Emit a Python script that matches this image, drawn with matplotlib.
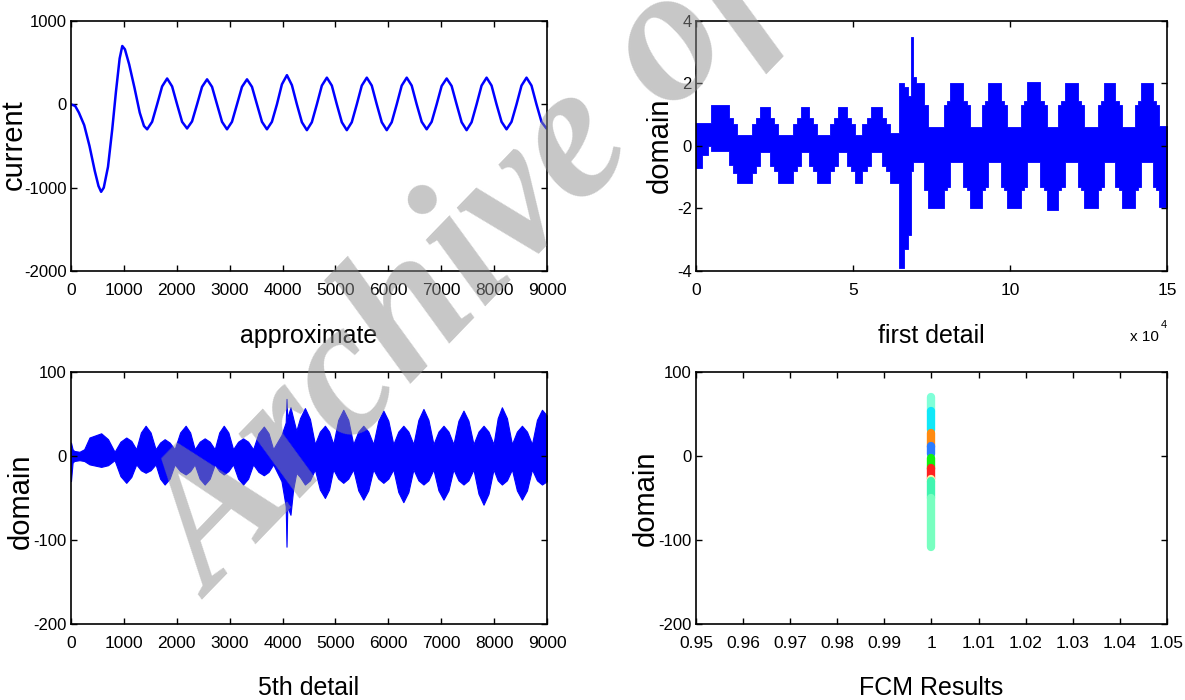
import matplotlib
matplotlib.use("Agg")
import matplotlib.pyplot as plt

plt.rcParams['axes.unicode_minus'] = False
plt.rcParams['font.family'] = ['Liberation Sans', 'DejaVu Sans']

# --- approximate (current) ---
appr_x = [0, 80, 150, 250, 350, 450, 520, 570, 620, 700, 780, 850, 920, 970, 1020, 1100, 1200, 1300, 1380, 1440,
          1534, 1629, 1723, 1818, 1912, 2006, 2101, 2195,
          2289, 2384, 2478, 2573, 2667, 2761, 2856, 2950,
          3044, 3139, 3233, 3328, 3422, 3516, 3611, 3705,
          3799, 3894, 3988, 4083, 4177, 4271, 4366, 4460,
          4554, 4649, 4743, 4838, 4932, 5026, 5121, 5215,
          5309, 5404, 5498, 5593, 5687, 5781, 5876, 5970,
          6064, 6159, 6253, 6348, 6442, 6536, 6631, 6725,
          6819, 6914, 7008, 7103, 7197, 7291, 7386, 7480,
          7574, 7669, 7763, 7858, 7952, 8046, 8141, 8235,
          8329, 8424, 8518, 8613, 8707, 8801, 8896, 8990, 9000]
appr_y = [0, -20, -100, -250, -500, -800, -980, -1050, -1000, -750, -300, 150, 550, 700, 660, 480, 200, -100, -260, -300,
          -210, 0, 215, 310, 215, 0, -210, -290,
          -205, 0, 210, 300, 210, 0, -210, -300,
          -210, 0, 210, 300, 210, 0, -210, -300,
          -210, 0, 240, 350, 230, 0, -215, -310,
          -215, 0, 225, 320, 225, 0, -215, -310,
          -215, 0, 225, 320, 225, 0, -215, -310,
          -215, 0, 225, 320, 225, 0, -210, -300,
          -210, 0, 220, 310, 220, 0, -215, -310,
          -215, 0, 225, 320, 225, 0, -210, -300,
          -210, 0, 225, 320, 225, 0, -210, -290, -280]

# --- first detail: envelope steps (x in units of 1e4) ---
fd_x = [0.00, 0.18, 0.38, 0.49, 1.05, 1.17, 1.30, 1.78, 1.91, 2.04, 2.35, 2.48, 2.62, 3.08, 3.22, 3.34,
        3.60, 3.73, 3.86, 4.28, 4.41, 4.53, 4.80, 4.93, 5.05, 5.30, 5.44, 5.56, 5.92, 6.06, 6.18,
        6.46, 6.62, 6.74, 6.86, 6.92, 7.00, 7.26, 7.40, 7.90, 8.00, 8.10, 8.50, 8.62, 8.72, 9.10,
        9.19, 9.30, 9.72, 9.82, 9.92, 10.34, 10.44, 10.54, 10.97, 11.07, 11.17, 11.54, 11.64, 11.74,
        12.16, 12.26, 12.36, 12.79, 12.89, 12.99, 13.36, 13.46, 13.56, 13.98, 14.08, 14.18, 14.55,
        14.65, 14.75, 15.00]
fd_up = [0.75, 0.75, 0.75, 1.30, 0.90, 0.70, 0.35, 0.70, 0.90, 1.25, 0.90, 0.70, 0.35, 0.70, 0.90, 1.25,
         0.90, 0.70, 0.35, 0.70, 0.90, 1.25, 0.90, 0.70, 0.35, 0.70, 0.90, 1.25, 0.90, 0.70, 0.40,
         2.00, 1.90, 1.60, 3.50, 2.20, 2.00, 1.30, 0.60, 1.30, 1.45, 2.00, 1.45, 1.30, 0.60, 1.30,
         1.45, 2.00, 1.45, 1.30, 0.60, 1.30, 1.45, 2.05, 1.45, 1.30, 0.60, 1.30, 1.45, 2.00,
         1.45, 1.30, 0.60, 1.30, 1.45, 2.00, 1.45, 1.30, 0.60, 1.30, 1.45, 2.00, 1.45,
         1.30, 0.65, 0.65]
fd_lo = [-0.70, -0.30, 0.00, -0.15, -0.60, -0.85, -1.20, -0.85, -0.65, -0.20, -0.65, -0.80, -1.20, -0.80, -0.65, -0.20,
         -0.65, -0.80, -1.20, -0.80, -0.65, -0.20, -0.65, -0.80, -1.20, -0.80, -0.65, -0.20, -0.65, -0.80, -1.20,
         -3.90, -3.30, -2.85, -0.80, -0.50, -0.50, -1.40, -2.00, -1.40, -1.30, -0.50, -1.30, -1.40, -2.00, -1.40,
         -1.30, -0.50, -1.30, -1.40, -2.00, -1.40, -1.30, -0.50, -1.30, -1.40, -2.05, -1.40, -1.30, -0.50,
         -1.30, -1.40, -2.00, -1.40, -1.30, -0.50, -1.30, -1.40, -2.00, -1.40, -1.30, -0.50, -1.30,
         -1.40, -1.95, -1.95]

# --- 5th detail: envelope ---
d5_x = [0, 30, 60, 161, 250, 350, 571, 700, 824,
        935, 1045, 1140, 1234, 1322, 1411, 1505, 1600, 1685, 1771, 1865, 1960, 2064, 2168, 2253, 2339,
        2433, 2528, 2623, 2718, 2803, 2888, 2976, 3065, 3160, 3254, 3349, 3444, 3545, 3646, 3735, 3823,
        3980, 4060, 4075, 4090, 4150, 4200, 4260, 4330, 4423,
        4518, 4612, 4706, 4801, 4880, 4959, 5053, 5148, 5242, 5337, 5432, 5527, 5621, 5716, 5811, 5906,
        6000, 6094, 6189, 6284, 6379, 6474, 6569, 6664, 6758, 6853, 6948, 7043, 7137, 7231, 7326, 7421,
        7515, 7610, 7705, 7800, 7894, 7989, 8068, 8147, 8242, 8337, 8431, 8526, 8621, 8716, 8810, 8905, 9000]
d5_up = [16, 8, 6, 5, 8, 22, 27, 20, 5,
         17, 22, 18, 8, 28, 36, 28, 8, 16, 20, 16, 8, 28, 36, 28, 8,
         17, 21, 17, 8, 28, 36, 28, 8, 17, 21, 17, 8, 27, 35, 27, 8,
         25, 40, 68, 45, 58, 45, 30, 45, 57,
         44, 14, 29, 36, 29, 14, 43, 55, 43, 14, 29, 36, 29, 14, 42, 54,
         42, 14, 29, 36, 29, 14, 43, 56, 43, 14, 29, 36, 29, 14, 42, 54,
         42, 14, 29, 36, 29, 14, 45, 58, 45, 14, 29, 36, 29, 14, 43, 55, 48]
d5_lo = [-30, -8, -6, -5, -6, -10, -13, -11, -5,
         -24, -32, -25, -10, -17, -20, -17, -10, -27, -34, -27, -10, -18, -22, -18, -10,
         -27, -34, -27, -10, -18, -22, -18, -10, -27, -34, -27, -10, -19, -23, -19, -10,
         -30, -60, -108, -60, -70, -40, -20, -25, -34,
         -29, -16, -40, -50, -40, -16, -27, -32, -27, -16, -41, -52, -41, -16, -27, -32,
         -27, -16, -43, -55, -43, -16, -29, -34, -29, -16, -41, -52, -41, -16, -29, -34,
         -29, -16, -45, -58, -45, -16, -29, -34, -29, -16, -41, -52, -41, -16, -29, -34, -30]

# --- FCM clusters (all at x = 1) ---
fcm_lo = [53, 31, 11, 2, -15, -27, -31, -50, -108]
fcm_hi = [70, 53, 27, 12, -2, -14, -27, -30, -50]
fcm_colors = ['#80ffd8', '#10e8f8', '#ff8a10', '#2a7cff', '#10f010', '#ff2020', '#fff0a0', '#40f5b0', '#78ffc0']

fig = plt.figure(figsize=(11.85, 7.0), dpi=100)
ax1 = fig.add_axes([0.0599, 0.6129, 0.4017, 0.3571])
ax2 = fig.add_axes([0.5873, 0.6129, 0.3975, 0.3571])
ax3 = fig.add_axes([0.0599, 0.1086, 0.4017, 0.3600])
ax4 = fig.add_axes([0.5873, 0.1086, 0.3975, 0.3600])

ax1.plot(appr_x, appr_y, color='#0000ff', lw=1.8)
ax1.set_xlim(0, 9000)
ax1.set_ylim(-2000, 1000)
ax1.set_xticks(range(0, 9001, 1000))
ax1.set_yticks([-2000, -1000, 0, 1000])
ax1.set_ylabel('current')
ax1.set_xlabel('approximate')

ax2.fill_between(fd_x, fd_lo, fd_up, step='post', color='#0000ff', lw=0.6, edgecolor='#0000ff')
ax2.set_xlim(0, 15)
ax2.set_ylim(-4, 4)
ax2.set_xticks([0, 5, 10, 15])
ax2.set_yticks([-4, -2, 0, 2, 4])
ax2.set_ylabel('domain')
ax2.set_xlabel('first detail')
fig.text(1159 / 1185, 1 - 337 / 700, 'x 10', fontsize=11, ha='right', va='center')
fig.text(1161 / 1185, 1 - 325 / 700, '4', fontsize=8, ha='left', va='center')

ax3.fill_between(d5_x, d5_lo, d5_up, color='#0000ff', lw=0.8, edgecolor='#0000ff')
ax3.set_xlim(0, 9000)
ax3.set_ylim(-200, 100)
ax3.set_xticks(range(0, 9001, 1000))
ax3.set_yticks([-200, -100, 0, 100])
ax3.set_ylabel('domain')
ax3.set_xlabel('5th detail')

for lo, hi, c in zip(fcm_lo, fcm_hi, fcm_colors):
    ax4.plot([1, 1], [lo, hi], color=c, lw=6, solid_capstyle='round')
ax4.set_xlim(0.95, 1.05)
ax4.set_ylim(-200, 100)
ax4.set_xticks([0.95, 0.96, 0.97, 0.98, 0.99, 1, 1.01, 1.02, 1.03, 1.04, 1.05])
ax4.set_xticklabels(['0.95', '0.96', '0.97', '0.98', '0.99', '1', '1.01', '1.02', '1.03', '1.04', '1.05'])
ax4.set_yticks([-200, -100, 0, 100])
ax4.set_ylabel('domain')
ax4.set_xlabel('FCM Results')

for ax in [ax1, ax2, ax3, ax4]:
    for s in ax.spines.values():
        s.set_linewidth(1.2)
    ax.tick_params(direction='in', top=True, right=True, length=4, width=1)
    ax.tick_params(axis='x', pad=8.5, labelsize=12.5)
    ax.tick_params(axis='y', pad=3, labelsize=12)
    ax.xaxis.label.set_size(18)
    ax.xaxis.label.set_va('baseline')
    ax.yaxis.label.set_size(21)
    ax.yaxis.label.set_va('center')

# label positions (axes fractions)
ax1.xaxis.set_label_coords(0.5, -0.29)
ax2.xaxis.set_label_coords(0.5, -0.29)
ax3.xaxis.set_label_coords(0.5, -0.28)
ax4.xaxis.set_label_coords(0.5, -0.28)
ax1.yaxis.set_label_coords(-0.121, 0.504)
ax2.yaxis.set_label_coords(-0.076, 0.502)
ax3.yaxis.set_label_coords(-0.105, 0.488)
ax4.yaxis.set_label_coords(-0.106, 0.50)

# watermark
fig.text(212 / 1185, 1 - 600 / 700, 'Archive of SID', family=['Liberation Serif', 'DejaVu Serif'],
         weight='bold', style='italic', fontsize=138, color='#909090', alpha=0.5,
         rotation=46, rotation_mode='anchor', ha='left', va='baseline', zorder=10)

fig.savefig('out.png', dpi=100)
